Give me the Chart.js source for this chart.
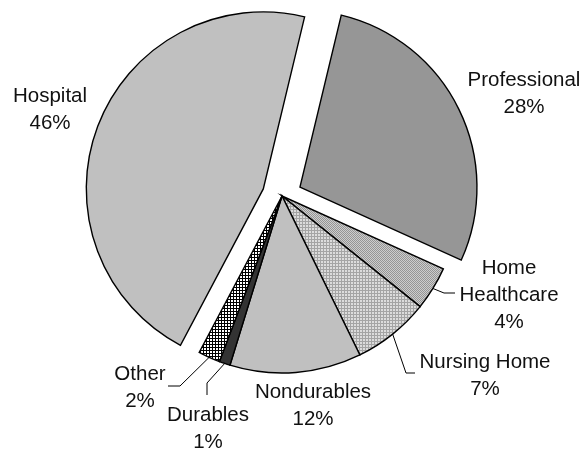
<!DOCTYPE html>
<html>
<head>
<meta charset="utf-8">
<script src="https://cdn.jsdelivr.net/npm/chart.js@4/dist/chart.umd.min.js"></script>
<style>
  html, body { margin: 0; padding: 0; background: #fff; }
  canvas { display: block; }
</style>
</head>
<body>
<canvas id="pie" width="586" height="450"></canvas>
<script>
// data, clockwise from the gap at the top
const categories = ['Professional', 'Home Healthcare', 'Nursing Home', 'Nondurables', 'Durables', 'Other', 'Hospital'];
const shares = [28, 4, 7, 12, 1, 2, 46];
const labelLines = [['Professional'], ['Home', 'Healthcare'], ['Nursing Home'], ['Nondurables'], ['Durables'], ['Other'], ['Hospital']];

//#region patterns
function makePattern(size, draw) {
    const tile = document.createElement('canvas');
    tile.width = size;
    tile.height = size;
    const tctx = tile.getContext('2d');
    draw(tctx);
    return document.getElementById('pie').getContext('2d').createPattern(tile, 'repeat');
}

const dotted = makePattern(2, c => {
    c.fillStyle = '#cdcdcd';
    c.fillRect(0, 0, 2, 2);
    c.fillStyle = '#959595';
    c.fillRect(0, 0, 1, 1);
    c.fillRect(1, 1, 1, 1);
});

const lightGrid = makePattern(3, c => {
    c.fillStyle = '#a4a4a4';
    c.fillRect(0, 0, 3, 3);
    c.fillStyle = '#dcdcdc';
    c.fillRect(0, 0, 2, 2);
});

const blackGrid = makePattern(3, c => {
    c.fillStyle = '#000';
    c.fillRect(0, 0, 3, 3);
    c.fillStyle = '#fff';
    c.fillRect(0, 0, 2, 2);
});
//#endregion

const fills = ['#969696', dotted, lightGrid, '#c0c0c0', '#333333', blackGrid, '#c0c0c0'];

// pulled-out slices (px)
const explode = { 'Professional': 20, 'Hospital': 20 };

// label placement: centre x, first baseline, optional leader (elbow, end)
const labelLayout = {
    'Professional':    { x: 524, y: 86 },
    'Home Healthcare': { x: 509, y: 274, leader: [[444, 293], [455, 293]] },
    'Nursing Home':    { x: 485, y: 368, leader: [[406, 373], [415, 373]] },
    'Nondurables':     { x: 313, y: 398 },
    'Durables':        { x: 208, y: 421, leader: [[207, 383], [207, 395]] },
    'Other':           { x: 140, y: 380, leader: [[180, 386], [168, 386]] },
    'Hospital':        { x: 50,  y: 102 }
};

const explodePlugin = {
    id: 'explode',
    afterDatasetUpdate(chart, args) {
        args.meta.data.forEach((arc, i) => {
            const d = explode[categories[i]] || 0;
            if (!d) return;
            const mid = (arc.startAngle + arc.endAngle) / 2;
            arc.x += Math.cos(mid) * d;
            arc.y += Math.sin(mid) * d;
        });
    }
};

const labelPlugin = {
    id: 'sliceLabels',
    afterDraw(chart) {
        const ctx = chart.ctx;
        const arcs = chart.getDatasetMeta(0).data;
        ctx.save();
        ctx.font = '20.5px "Liberation Sans", Arial, sans-serif';
        ctx.fillStyle = '#111';
        ctx.textAlign = 'center';
        ctx.textBaseline = 'alphabetic';
        ctx.strokeStyle = '#000';
        ctx.lineWidth = 1;
        categories.forEach((name, i) => {
            const lay = labelLayout[name];
            const lines = labelLines[i].concat([shares[i] + '%']);
            lines.forEach((t, k) => ctx.fillText(t, lay.x, lay.y + k * 27));
            if (lay.leader) {
                const arc = arcs[i];
                const mid = (arc.startAngle + arc.endAngle) / 2;
                ctx.beginPath();
                ctx.moveTo(arc.x + Math.cos(mid) * arc.outerRadius, arc.y + Math.sin(mid) * arc.outerRadius);
                lay.leader.forEach(p => ctx.lineTo(p[0], p[1]));
                ctx.stroke();
            }
        });
        ctx.restore();
    }
};

new Chart(document.getElementById('pie'), {
    type: 'pie',
    data: {
        labels: categories,
        datasets: [{
            data: shares,
            backgroundColor: fills,
            borderColor: '#000',
            borderWidth: 1.4,
            borderJoinStyle: 'miter'
        }]
    },
    options: {
        responsive: false,
        animation: false,
        rotation: 13.5,
        radius: 177,
        layout: { padding: { left: 0, right: 22, top: 0, bottom: 58 } },
        plugins: {
            legend: { display: false },
            tooltip: { enabled: false }
        }
    },
    plugins: [explodePlugin, labelPlugin]
});
</script>
</body>
</html>
